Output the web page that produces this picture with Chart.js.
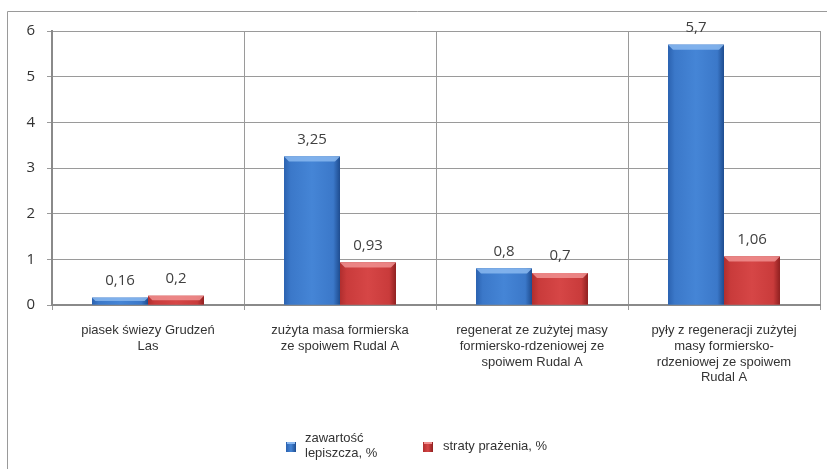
<!DOCTYPE html>
<html>
<head>
<meta charset="utf-8">
<script src="https://cdn.jsdelivr.net/npm/chart.js@4/dist/chart.umd.min.js"></script>
<style>
  html, body { margin: 0; padding: 0; background: #fff; }
  #wrap { width: 827px; height: 469px; }
</style>
</head>
<body>
<div id="wrap"><canvas id="c" width="827" height="469"></canvas></div>
<script>
// Categories (materials) and the two measured series
const categories = [
  ['piasek świezy Grudzeń', 'Las'],
  ['zużyta masa formierska', 'ze spoiwem Rudal A'],
  ['regenerat ze zużytej masy', 'formiersko-rdzeniowej ze', 'spoiwem Rudal A'],
  ['pyły z regeneracji zużytej', 'masy formiersko-', 'rdzeniowej ze spoiwem', 'Rudal A']
];
const binderContent = [0.16, 3.25, 0.8, 5.7];   // zawartość lepiszcza, %
const ignitionLoss = [0.2, 0.93, 0.7, 1.06];    // straty prażenia, %
const yTicks = [0, 1, 2, 3, 4, 5, 6];

const seriesNames = [['zawartość', 'lepiszcza, %'], ['straty prażenia, %']];

const SANS = "'Liberation Sans', Arial, sans-serif";
const NUMFONT = "'Open Sans', 'Liberation Sans', sans-serif";

const palettes = [
  { edgeL: '#2b62b0', mid: '#4585d6', edgeR: '#1e4c8f', top: '#8ab8f0', base: '#3b78c9' },
  { edgeL: '#b02e2e', mid: '#d64646', edgeR: '#8f2020', top: '#f09090', base: '#c93b3b' }
];

const fmt = v => String(v).replace('.', ',');

// Frame around the whole figure
const framePlugin = {
  id: 'frame',
  beforeDraw(chart) {
    const c = chart.ctx;
    c.save();
    c.fillStyle = '#fff';
    c.fillRect(0, 0, chart.width, chart.height);
    c.strokeStyle = '#9a9a9a';
    c.lineWidth = 1;
    c.beginPath();
    c.moveTo(7.5, chart.height);
    c.lineTo(7.5, 11.5);
    c.lineTo(chart.width, 11.5);
    c.stroke();
    c.restore();
  }
};

// Bevelled bar shading and value labels
const barLook = {
  id: 'barLook',
  afterDatasetsDraw(chart) {
    const c = chart.ctx;
    chart.data.datasets.forEach((ds, di) => {
      const meta = chart.getDatasetMeta(di);
      const p = palettes[di];
      meta.data.forEach((bar, i) => {
        const { x, y, base, width } = bar.getProps(['x', 'y', 'base', 'width'], true);
        const l = x - width / 2, r = x + width / 2, h = base - y;
        c.save();
        const g = c.createLinearGradient(l, 0, r, 0);
        g.addColorStop(0, p.edgeL);
        g.addColorStop(0.12, p.base);
        g.addColorStop(0.5, p.mid);
        g.addColorStop(0.88, p.base);
        g.addColorStop(1, p.edgeR);
        c.fillStyle = g;
        c.fillRect(l, y, width, h);
        // top bevel
        const bev = Math.min(5, h / 2);
        c.fillStyle = p.top;
        c.globalAlpha = 0.85;
        c.beginPath();
        c.moveTo(l, y);
        c.lineTo(r, y);
        c.lineTo(r - bev, y + bev);
        c.lineTo(l + bev, y + bev);
        c.closePath();
        c.fill();
        c.restore();

        c.save();
        c.fillStyle = '#404040';
        c.font = '15px ' + NUMFONT;
        c.textAlign = 'center';
        c.textBaseline = 'middle';
        c.fillText(fmt(ds.data[i]), x, y - 17);
        c.restore();
      });
    });
  }
};

// Legend below the axis labels
const legendPlugin = {
  id: 'customLegend',
  afterDraw(chart) {
    const c = chart.ctx;
    c.save();
    c.font = '13px ' + SANS;
    c.textBaseline = 'middle';
    const items = [
      { mx: 286, tx: 305, lines: seriesNames[0], pal: palettes[0] },
      { mx: 423, tx: 443, lines: seriesNames[1], pal: palettes[1] }
    ];
    items.forEach(it => {
      const g = c.createLinearGradient(it.mx, 0, it.mx + 10, 0);
      g.addColorStop(0, it.pal.edgeL);
      g.addColorStop(0.5, it.pal.mid);
      g.addColorStop(1, it.pal.edgeR);
      c.fillStyle = g;
      c.fillRect(it.mx, 442, 10, 10);
      c.fillStyle = it.pal.top;
      c.fillRect(it.mx + 1, 442, 8, 2);
      c.fillStyle = '#333';
      const n = it.lines.length;
      it.lines.forEach((t, k) => {
        c.fillText(t, it.tx, 446 + (k - (n - 1) / 2) * 15.5);
      });
    });
    c.restore();
  }
};

new Chart(document.getElementById('c'), {
  type: 'bar',
  data: {
    labels: categories,
    datasets: [
      { label: seriesNames[0].join(' '), data: binderContent, backgroundColor: palettes[0].base },
      { label: seriesNames[1].join(' '), data: ignitionLoss, backgroundColor: palettes[1].base }
    ]
  },
  options: {
    responsive: false,
    animation: false,
    devicePixelRatio: 1,
    layout: { padding: { top: 31, right: 7, left: 0, bottom: 0 } },
    datasets: { bar: { categoryPercentage: 0.583, barPercentage: 1.0 } },
    plugins: { legend: { display: false }, tooltip: { enabled: false } },
    scales: {
      x: {
        grid: { color: '#9a9a9a', lineWidth: 1, tickLength: 5, offset: true },
        border: { color: '#8a8a8a', width: 2 },
        ticks: {
          color: '#333',
          font: { family: SANS, size: 13, lineHeight: 1.2 },
          padding: 13,
          maxRotation: 0,
          autoSkip: false
        },
        afterFit(s) { s.height = 164; }
      },
      y: {
        min: 0,
        max: 6,
        afterBuildTicks(s) { s.ticks = yTicks.map(v => ({ value: v })); },
        grid: { color: '#9a9a9a', lineWidth: 1, tickLength: 5 },
        border: { color: '#8a8a8a', width: 2 },
        ticks: {
          color: '#333',
          font: { family: NUMFONT, size: 15 },
          padding: 12
        },
        afterFit(s) { s.width = 52; }
      }
    }
  },
  plugins: [framePlugin, barLook, legendPlugin]
});
</script>
</body>
</html>
